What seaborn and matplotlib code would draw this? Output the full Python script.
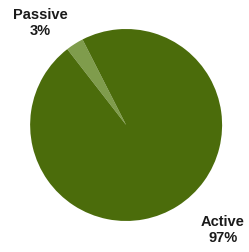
import matplotlib
matplotlib.use("Agg")
import matplotlib.pyplot as plt
import seaborn as sns

sns.set_theme(style="white")
plt.rcParams['font.family'] = ['Liberation Sans', 'DejaVu Sans']

labels = ["Passive", "Active"]
shares = [3, 97]
colors = ["#7f9c4c", "#4b6c0b"]

fig = plt.figure(figsize=(2.49, 2.52), dpi=100)
ax = fig.add_axes([0.121, 0.123, 0.771, 0.762])
ax.pie(shares, colors=colors, startangle=117, counterclock=True,
       wedgeprops=dict(linewidth=0))
ax.set_xlim(-1, 1)
ax.set_ylim(-1, 1)
ax.set_aspect("equal")
ax.axis("off")

fig.text(40 / 249, 1 - 23 / 252, f"{labels[0]}\n{shares[0]}%", ha="center", va="center",
         fontsize=10.5, fontweight="bold", color="#1a1a1a", linespacing=1.1)
fig.text(223 / 249, 1 - 230 / 252, f"{labels[1]}\n{shares[1]}%", ha="center", va="center",
         fontsize=10.5, fontweight="bold", color="#1a1a1a", linespacing=1.1)

fig.savefig("out.png", dpi=100, facecolor="white")
